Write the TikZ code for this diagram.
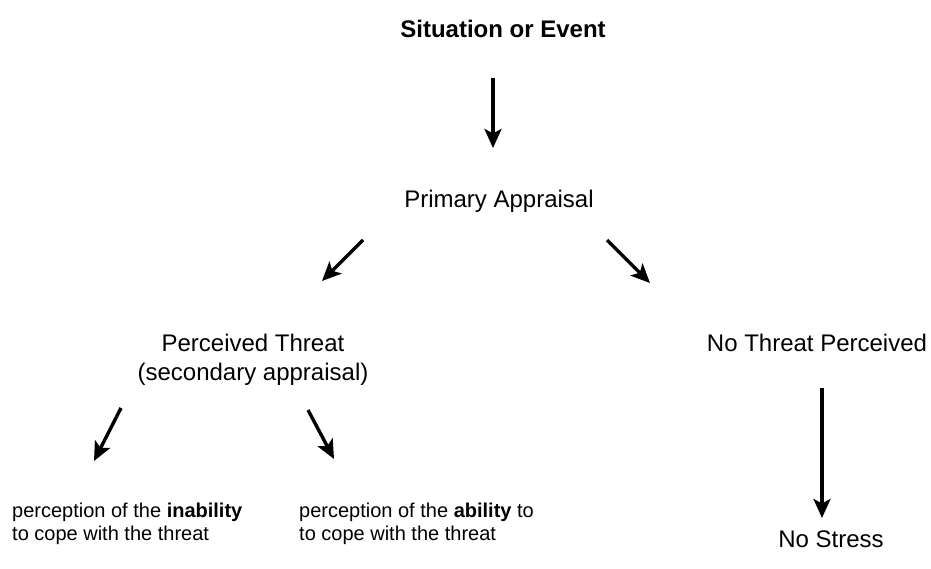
\documentclass[tikz,border=0pt]{standalone}
\usepackage{fontspec}
\setmainfont{Liberation Sans}
\usetikzlibrary{arrows.meta}
\begin{document}
\begin{tikzpicture}[x=1pt,y=-1pt,
  arr/.style={line width=3.4pt, -{Stealth[length=19pt,width=17pt,inset=4.5pt]}},
  lab/.style={font=\fontsize{24}{29}\selectfont, inner sep=0pt},
  small/.style={font=\fontsize{20}{23}\selectfont, inner sep=0pt, align=left}]
\useasboundingbox (0,0) rectangle (931,569);
\node[lab, font=\fontsize{24}{29}\selectfont\bfseries, anchor=base] (sit) at (503,38) {Situation or Event};
\node[lab, anchor=base] (pa) at (499,208) {Primary Appraisal};
\node[lab, align=center, anchor=north] (pt) at (253,334) {Perceived Threat\\(secondary appraisal)};
\node[lab, anchor=base] (nt) at (817,351) {No Threat Perceived};
\node[lab, anchor=base] (ns) at (831,547) {No Stress};
\node[small, anchor=north west] (inab) at (12,503) {perception of the \textbf{inability}\\to cope with the threat};
\node[small, anchor=north west] (ab) at (299,503) {perception of the \textbf{ability} to\\to cope with the threat};
\coordinate (a1s) at (493,78);  \coordinate (a1e) at (493,148);
\coordinate (a2s) at (363,240); \coordinate (a2e) at (322,281);
\coordinate (a3s) at (607,240); \coordinate (a3e) at (650,283);
\coordinate (a4s) at (121,408); \coordinate (a4e) at (94,461);
\coordinate (a5s) at (308,410); \coordinate (a5e) at (334,459);
\coordinate (a6s) at (822,388); \coordinate (a6e) at (822,518);
\draw[arr] (a1s) -- (a1e);
\draw[arr] (a2s) -- (a2e);
\draw[arr] (a3s) -- (a3e);
\draw[arr] (a4s) -- (a4e);
\draw[arr] (a5s) -- (a5e);
\draw[arr] (a6s) -- (a6e);
\end{tikzpicture}
\end{document}
